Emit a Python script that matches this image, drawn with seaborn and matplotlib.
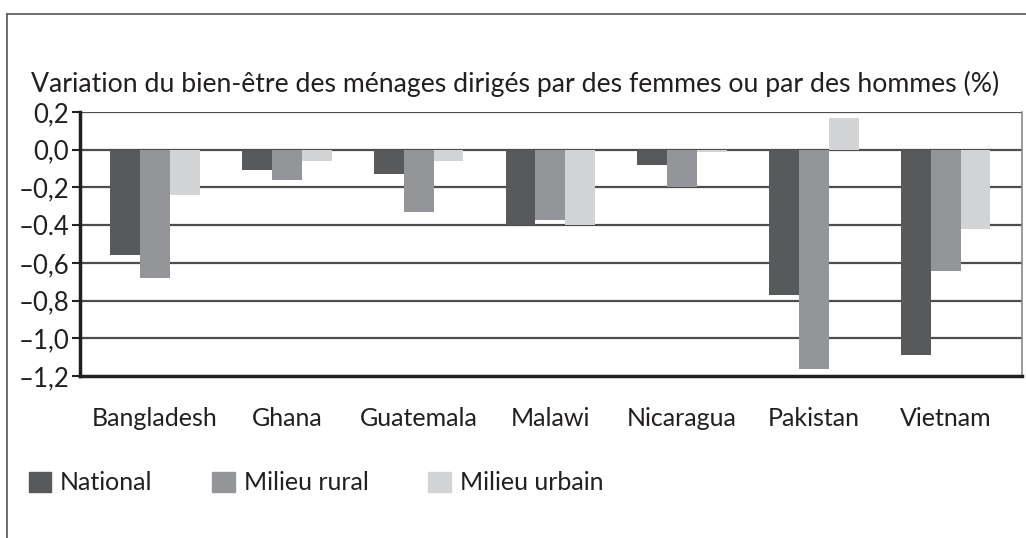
import matplotlib
matplotlib.use("Agg")
import matplotlib.pyplot as plt
import matplotlib.lines as mlines
import seaborn as sns
import pandas as pd

countries = ["Bangladesh", "Ghana", "Guatemala", "Malawi", "Nicaragua", "Pakistan", "Vietnam"]
national = [-0.56, -0.11, -0.13, -0.40, -0.08, -0.77, -1.09]
rural = [-0.68, -0.16, -0.33, -0.375, -0.20, -1.165, -0.645]
urban = [-0.24, -0.06, -0.06, -0.40, -0.01, 0.17, -0.42]
series = ["National", "Milieu rural", "Milieu urbain"]
colors = ["#58595b", "#939598", "#d1d3d4"]
yticks = [0.2, 0.0, -0.2, -0.4, -0.6, -0.8, -1.0, -1.2]
ytick_labels = ["0,2", "0,0", "\u20130,2", "\u20130.4", "\u20130,6", "\u20130,8", "\u20131,0", "\u20131,2"]
title = "Variation du bien-être des ménages dirigés par des femmes ou par des hommes (%)"

rows = []
for name, vals in zip(series, [national, rural, urban]):
    for c, v in zip(countries, vals):
        rows.append({"pays": c, "serie": name, "valeur": v})
df = pd.DataFrame(rows)

sns.set_style("white")
plt.rcParams["font.family"] = ["Lato", "DejaVu Sans"]

fig = plt.figure(figsize=(10.26, 5.38), dpi=100)
ax = fig.add_axes([80 / 1026, 1 - 376 / 538, 942 / 1026, 264 / 538])

sns.barplot(data=df, x="pays", y="valeur", hue="serie", hue_order=series,
            palette=colors, width=0.68, gap=0, saturation=1, linewidth=0,
            errorbar=None, ax=ax, zorder=3)

ax.set_ylim(-1.2, 0.2)
ax.set_xlim(-0.57, 6.58)
ax.set_yticks(yticks)
ax.set_yticklabels(ytick_labels, fontsize=18.5, color="#231f20")
for y in yticks[:-1]:
    ax.axhline(y, color="#4d4d4f", lw=1.6, zorder=2)
ax.set_xticks(range(len(countries)))
ax.set_xticklabels(countries, fontsize=18, color="#231f20")
ax.tick_params(axis="x", length=0, pad=22)
ax.tick_params(axis="y", length=6, width=1.5, color="#231f20", pad=2, left=True)
ax.set_xlabel("")
ax.set_ylabel("")

for s in ["left", "bottom"]:
    ax.spines[s].set_linewidth(2.5)
    ax.spines[s].set_color("#231f20")
ax.spines["top"].set_visible(False)
ax.spines["right"].set_color("#8a8a8a")
ax.spines["right"].set_linewidth(1.2)

ax.get_legend().remove()
handles = [plt.Rectangle((0, 0), 1, 1, color=c) for c in colors]
fig.legend(handles, series, loc="center left", bbox_to_anchor=(6 / 1026, 1 - 483 / 538),
           ncol=3, frameon=False, fontsize=18, handlelength=0.9, handleheight=0.9,
           handletextpad=0.35, columnspacing=2.4, labelcolor="#231f20")

fig.text(31 / 1026, 1 - 84 / 538, title, fontsize=19.2, color="#231f20", va="center")

# cadre autour de la figure
fig.add_artist(mlines.Line2D([7 / 1026, 7 / 1026], [0, 1 - 14 / 538], color="#555555", lw=1.2))
fig.add_artist(mlines.Line2D([7 / 1026, 1], [1 - 14 / 538, 1 - 14 / 538], color="#555555", lw=1.2))

fig.savefig("out.png", dpi=100)
